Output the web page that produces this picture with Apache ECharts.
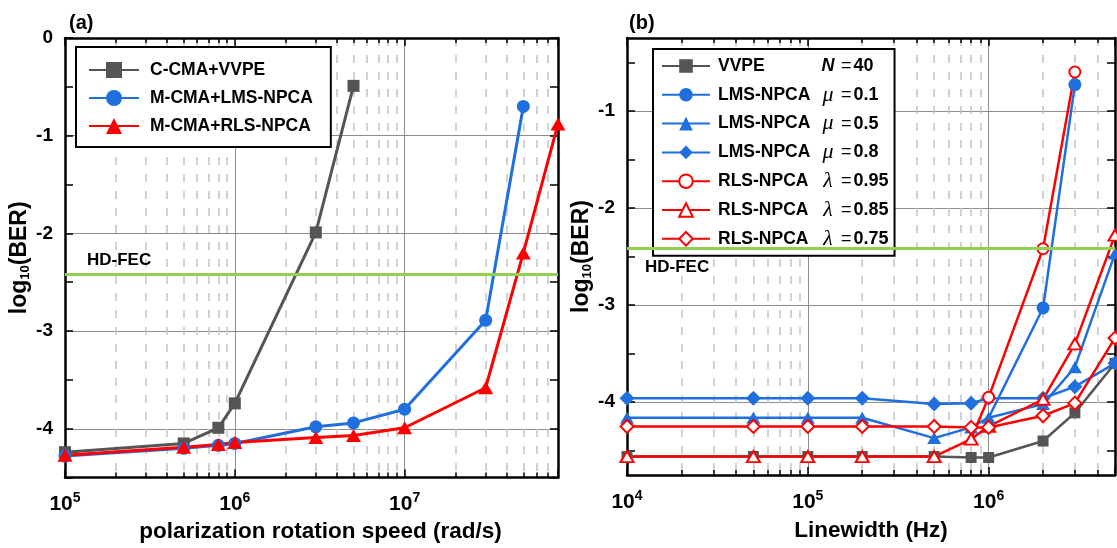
<!DOCTYPE html>
<html>
<head>
<meta charset="utf-8">
<title>BER vs rotation speed / linewidth</title>
<script src="https://cdn.jsdelivr.net/npm/echarts@6/dist/echarts.min.js"></script>
<style>
html, body { margin: 0; padding: 0; background: #fff; }
#main { width: 1117px; height: 548px; }
</style>
</head>
<body>
<div id="main"></div>
<script>
// (a) BER against polarization rotation speed (rad/s)
var speedVVPE = [1e5, 5e5, 8e5, 1e6, 3e6, 5e6];
var berVVPE_a = [-4.24, -4.15, -3.99, -3.74, -1.99, -0.49];
var speedLMS = [1e5, 5e5, 8e5, 1e6, 3e6, 5e6, 1e7, 3e7, 5e7];
var berLMS_a = [-4.28, -4.2, -4.17, -4.15, -3.98, -3.94, -3.8, -2.89, -0.7];
var speedRLS = [1e5, 5e5, 8e5, 1e6, 3e6, 5e6, 1e7, 3e7, 5e7, 8e7];
var berRLS_a = [-4.27, -4.19, -4.16, -4.14, -4.09, -4.07, -3.99, -3.58, -2.2, -0.88];

// (b) BER against linewidth (Hz)
var lw = [1e4, 5e4, 1e5, 2e5, 5e5, 8e5, 1e6, 2e6, 3e6, 5e6];
var berVVPE_b = [-4.56, -4.56, -4.56, -4.56, -4.56, -4.57, -4.57, -4.4, -4.11, -3.6];
var lwMu01 = [1e6, 2e6, 3e6];
var berMu01 = [-4.16, -3.03, -0.73];
var berMu05 = [-4.16, -4.16, -4.16, -4.16, -4.37, -4.26, -4.16, -4.02, -3.64, -2.47];
var berMu08 = [-3.96, -3.96, -3.96, -3.96, -4.02, -4.01, -3.96, -3.96, -3.84, -3.6];
var lwLam095 = [8e5, 1e6, 2e6, 3e6];
var berLam095 = [-4.38, -3.95, -2.42, -0.6];
var berLam085 = [-4.56, -4.56, -4.56, -4.56, -4.56, -4.38, -4.25, -3.97, -3.4, -2.28];
var berLam075 = [-4.25, -4.25, -4.25, -4.25, -4.25, -4.26, -4.26, -4.14, -4.01, -3.34];

var hdFec = -2.42;
var yTicksA = [-4.5, -4, -3.5, -3, -2.5, -2, -1.5, -1, -0.5, 0];
var yLabelsA = [-4, -3, -2, -1, 0];
var yTicksB = [-4.5, -4, -3.5, -3, -2.5, -2, -1.5, -1, -0.5];
var yLabelsB = [-4, -3, -2, -1];

var legendA = ['C-CMA+VVPE', 'M-CMA+LMS-NPCA', 'M-CMA+RLS-NPCA'];
var legendB = [
	['VVPE', 'N', '40'],
	['LMS-NPCA', 'μ', '0.1'],
	['LMS-NPCA', 'μ', '0.5'],
	['LMS-NPCA', 'μ', '0.8'],
	['RLS-NPCA', 'λ', '0.95'],
	['RLS-NPCA', 'λ', '0.85'],
	['RLS-NPCA', 'λ', '0.75']
];

var F = "'Liberation Sans', Arial, sans-serif";
var GRAY = '#555555', BLUE = '#1f6fde', RED = '#ff0000', GREEN = '#92d050';
var GRID_C = '#8c8c8c', MINOR_C = '#c4c4c4';

var myChart = echarts.init(document.getElementById('main'));

function pts(xs, ys, hideFirst) {
	return xs.map(function (x, i) {
		var item = { value: [x, ys[i]] };
		if (hideFirst && i === 0) item.symbol = 'none';
		return item;
	});
}

function curve(name, panel, xs, ys, color, symbol, size, width, hideFirst) {
	return {
		name: name, type: 'line',
		xAxisIndex: panel * 2, yAxisIndex: panel * 2,
		data: pts(xs, ys, hideFirst),
		symbol: symbol, symbolSize: size, showAllSymbol: true,
		lineStyle: { color: color, width: width },
		itemStyle: { color: color, borderColor: color, borderWidth: symbol.indexOf('empty') === 0 ? 2.5 : 0 },
		z: 3
	};
}

function powLabel(v) {
	var e = Math.round(Math.log10(v));
	if (Math.abs(Math.pow(10, e) - v) > v * 1e-6) return '';
	return '{b|10}{s|' + e + '}';
}

function xAxes(grid, min, max, title, gap, shift) {
	var line = { onZero: false, lineStyle: { color: '#000', width: 2.5 } };
	var bottom = {
		type: 'log', logBase: 10, gridIndex: grid, min: min, max: max, position: 'bottom',
		axisLine: line,
		axisTick: { inside: true, length: 8, lineStyle: { color: '#000', width: 1.5 } },
		minorTick: { show: true, splitNumber: 9, length: 5, lineStyle: { color: '#000', width: 1.5 } },
		splitLine: { show: true, lineStyle: { color: GRID_C, width: 1 } },
		minorSplitLine: { show: true, lineStyle: { color: MINOR_C, width: 1.5, type: [8, 9] } },
		axisLabel: {
			formatter: powLabel, margin: 14, showMaxLabel: false,
			rich: {
				b: { fontFamily: F, fontWeight: 'bold', fontSize: 21, color: '#000' },
				s: { fontFamily: F, fontWeight: 'bold', fontSize: 14, color: '#000', padding: [0, 0, 12, 0] }
			}
		},
		name: title, nameLocation: 'middle', nameGap: gap,
		nameTextStyle: { fontFamily: F, fontWeight: 'bold', fontSize: 22.5, color: '#000', padding: [0, 0, 0, shift] }
	};
	var top = {
		type: 'log', logBase: 10, gridIndex: grid, min: min, max: max, position: 'top',
		axisLine: line,
		axisTick: { inside: true, length: 8, lineStyle: { color: '#000', width: 1.5 } },
		minorTick: { show: true, splitNumber: 9, length: 5, lineStyle: { color: '#000', width: 1.5 } },
		splitLine: { show: false }, axisLabel: { show: false }
	};
	return [bottom, top];
}

function yAxes(grid, min, max, ticks, labels, gap) {
	var line = { show: true, onZero: false, lineStyle: { color: '#000', width: 2.5 } };
	var left = {
		type: 'value', gridIndex: grid, min: min, max: max, interval: 0.5, position: 'left',
		axisLine: line,
		axisTick: { inside: true, length: 8, customValues: ticks, lineStyle: { color: '#000', width: 1.5 } },
		axisLabel: {
			customValues: labels, margin: 12,
			fontFamily: F, fontWeight: 'bold', fontSize: 19, color: '#000',
			formatter: function (v) { return String(v); }
		},
		splitLine: { show: true, lineStyle: { color: ['rgba(0,0,0,0)', GRID_C], width: 1 } },
		name: '{a|log}{s|10}{a|(BER)}', nameLocation: 'middle', nameRotate: 90, nameGap: gap,
		nameTextStyle: {
			rich: {
				a: { fontFamily: F, fontWeight: 'bold', fontSize: 23, color: '#000' },
				s: { fontFamily: F, fontWeight: 'bold', fontSize: 13, color: '#000', padding: [12, 0, 0, 0] }
			}
		}
	};
	var right = {
		type: 'value', gridIndex: grid, min: min, max: max, interval: 0.5, position: 'right',
		axisLine: line,
		axisTick: { inside: true, length: 8, customValues: ticks, lineStyle: { color: '#000', width: 1.5 } },
		axisLabel: { show: false }, splitLine: { show: false }
	};
	return [left, right];
}

function fecLine(panel, pos, dist, shift) {
	return {
		type: 'line', xAxisIndex: panel * 2, yAxisIndex: panel * 2, data: [], z: 1, silent: true,
		markLine: {
			symbol: 'none', silent: true, animation: false,
			lineStyle: { color: GREEN, width: 3, type: 'solid' },
			label: {
				formatter: 'HD-FEC', position: pos, distance: dist, padding: [0, 0, 0, shift],
				fontFamily: F, fontWeight: 'bold', fontSize: 17, color: '#000'
			},
			data: [{ yAxis: hdFec }]
		}
	};
}

var legendRich = {
	n: { fontFamily: F, fontWeight: 'bold', fontSize: 17.5, color: '#000', width: 100 },
	pn: { fontFamily: F, fontWeight: 'bold', fontStyle: 'italic', fontSize: 18, color: '#000', width: 20, align: 'right' },
	pg: { fontFamily: "'Liberation Serif', serif", fontStyle: 'italic', fontSize: 22, color: '#000', width: 20, align: 'right' },
	e: { fontFamily: F, fontSize: 18, color: '#000', padding: [0, 2, 0, 3] },
	v: { fontFamily: F, fontWeight: 'bold', fontSize: 18, color: '#000' }
};
var legendNamesB = legendB.map(function (r) { return r.join(' '); });

option = {
	animation: false,
	backgroundColor: '#fff',
	title: [
		{ text: '(a)', left: 64, top: 8, textStyle: { fontFamily: F, fontWeight: 'bold', fontSize: 20, color: '#000' } },
		{ text: '(b)', left: 624, top: 8, textStyle: { fontFamily: F, fontWeight: 'bold', fontSize: 20, color: '#000' } }
	],
	grid: [
		{ left: 65, top: 38, width: 493, height: 441 },
		{ left: 627, top: 38, width: 488, height: 437 }
	],
	xAxis: xAxes(0, 1e5, 8e7, 'polarization rotation speed (rad/s)', 42, 18)
		.concat(xAxes(1, 1e4, 5e6, 'Linewidth (Hz)', 44, 0)),
	yAxis: yAxes(0, -4.5, 0, yTicksA, yLabelsA, 28)
		.concat(yAxes(1, -4.75, -0.25, yTicksB, yLabelsB, 27)),
	legend: [
		{
			orient: 'vertical', left: 76, top: 47, data: legendA,
			backgroundColor: '#fff', borderColor: '#000', borderWidth: 2,
			padding: [12, 18, 10, 12], itemWidth: 50, itemHeight: 20, itemGap: 6,
			textStyle: { fontFamily: F, fontWeight: 'bold', fontSize: 17.5, color: '#000', lineHeight: 22, padding: [0, 0, 0, 6] }
		},
		{
			orient: 'vertical', left: 653, top: 49, data: legendNamesB,
			backgroundColor: '#fff', borderColor: '#000', borderWidth: 2,
			padding: [6, 6, 6, 8], itemWidth: 48, itemHeight: 17, itemGap: 6.8,
			formatter: function (name) {
				var r = legendB[legendNamesB.indexOf(name)];
				var p = r[1] === 'N' ? '{pn|N}' : '{pg|' + r[1] + '}';
				return '{n|' + r[0] + '}' + p + '{e|=}{v|' + r[2] + '}';
			},
			textStyle: { lineHeight: 22, padding: [0, 0, 0, 3], rich: legendRich }
		}
	],
	series: [
		fecLine(0, 'insideStartTop', 6, 16),
		curve(legendA[0], 0, speedVVPE, berVVPE_a, GRAY, 'rect', 12, 3),
		curve(legendA[1], 0, speedLMS, berLMS_a, BLUE, 'circle', 13, 3),
		curve(legendA[2], 0, speedRLS, berRLS_a, RED, 'triangle', [15, 13], 3),
		fecLine(1, 'insideStartBottom', 10, 8),
		curve(legendNamesB[0], 1, lw, berVVPE_b, GRAY, 'rect', 11, 2.5),
		curve(legendNamesB[1], 1, lwMu01, berMu01, BLUE, 'circle', 13, 2.5, true),
		curve(legendNamesB[2], 1, lw, berMu05, BLUE, 'triangle', [14, 12], 2.5),
		curve(legendNamesB[3], 1, lw, berMu08, BLUE, 'diamond', 15, 2.5),
		curve(legendNamesB[4], 1, lwLam095, berLam095, RED, 'emptyCircle', 11, 2.5, true),
		curve(legendNamesB[5], 1, lw, berLam085, RED, 'emptyTriangle', [13, 11], 2.5),
		curve(legendNamesB[6], 1, lw, berLam075, RED, 'emptyDiamond', 13, 2.5)
	]
};

myChart.setOption(option);
</script>
</body>
</html>
